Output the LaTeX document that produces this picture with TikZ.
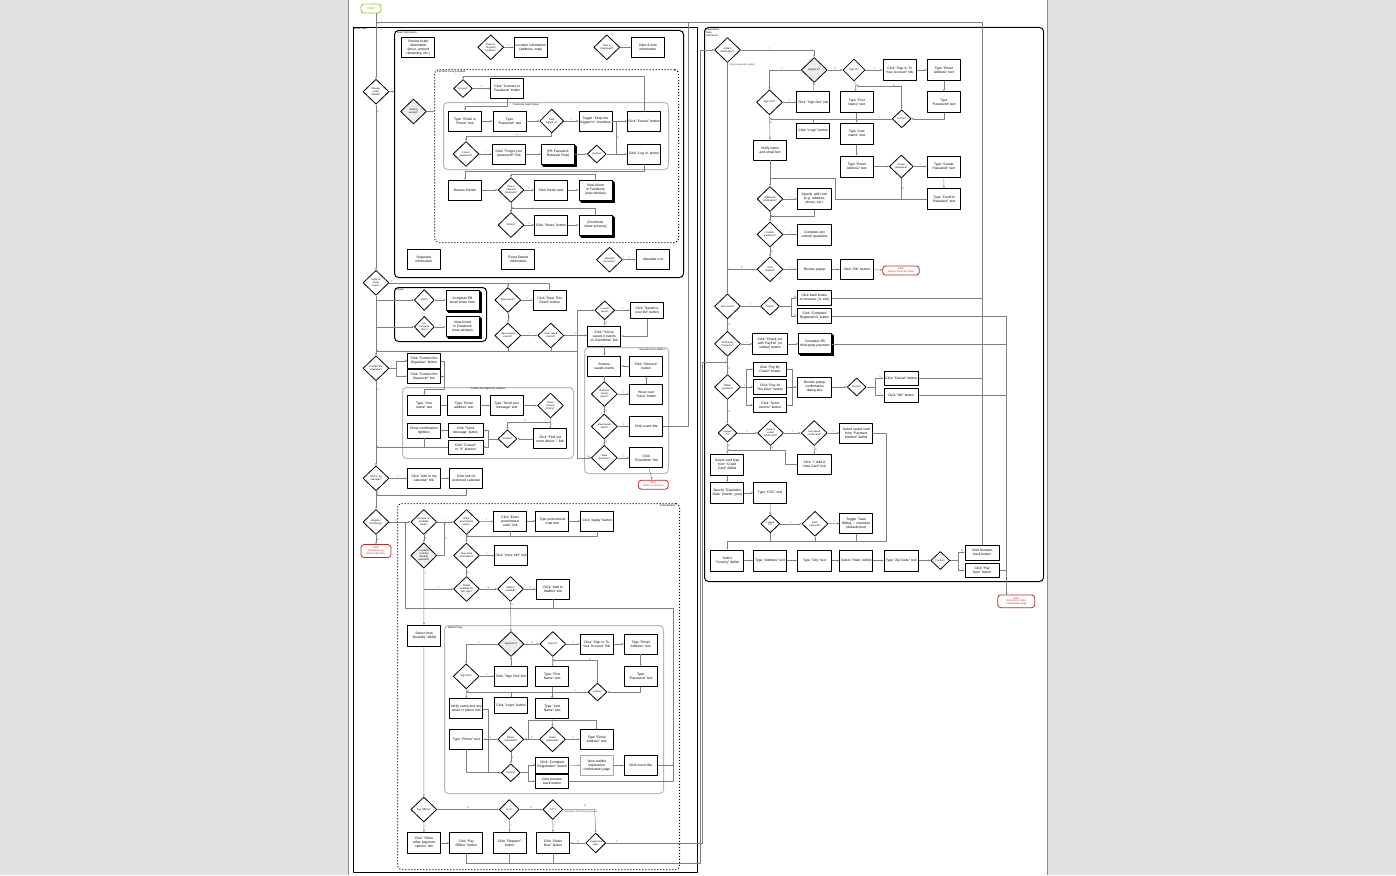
\documentclass[tikz,border=0pt]{standalone}
\usepackage{fontspec}
\setmainfont{Liberation Sans}
\usetikzlibrary{shapes.geometric,arrows.meta,shadows}
\definecolor{bggray}{RGB}{226,226,226}
\definecolor{endred}{RGB}{192,40,40}
\definecolor{startgr}{RGB}{154,205,50}
\definecolor{startxt}{RGB}{110,160,20}
\newcommand\nohy{\hyphenpenalty=10000 \exhyphenpenalty=10000 }
\newcommand\bxfont{\fontsize{3.35}{4.0}\selectfont\nohy}
\newcommand\dmfont{\fontsize{2.5}{3.0}\selectfont\nohy}
\newcommand\sdfont{\fontsize{2.3}{2.7}\selectfont\nohy}
\newcommand\hdfont{\fontsize{2.5}{2.9}\selectfont\nohy}
\newcommand\ynfont{\fontsize{2.3}{2.6}\selectfont\nohy}

\begin{document}
\begin{tikzpicture}[
  x=1pt,y=-1pt,
  line join=round,
  box/.style={draw,line width=0.9pt,fill=white,minimum width=33pt,minimum height=20pt,
    text width=31.6pt,align=center,inner sep=0.3pt,font=\bxfont},
  dec/.style={diamond,draw,line width=0.8pt,fill=white,minimum width=26pt,minimum height=25pt,
    inner sep=0pt,text width=14.5pt,align=center,font=\dmfont},
  sdec/.style={dec,minimum width=19pt,minimum height=18pt,text width=10.5pt,font=\sdfont},
  shade/.style={fill=gray!14},
  docs/.style={box,double copy shadow={shadow xshift=1pt,shadow yshift=-1pt}},
  endn/.style={draw=endred,line width=0.8pt,rounded corners=3pt,fill=white,text=endred,
    font=\hdfont,align=center,minimum width=30pt,minimum height=9pt,inner sep=0.5pt},
  startn/.style={draw=startgr,line width=0.9pt,rounded corners=3pt,fill=white,text=startxt,
    font=\hdfont,minimum width=20pt,minimum height=9pt,inner sep=0.5pt},
  cont/.style={draw,line width=1pt,rounded corners=4pt,inner sep=0pt},
  dotcont/.style={cont,dotted},
  lbox/.style={cont,draw=gray!55},
  hdr/.style={font=\hdfont,inner sep=0.8pt,align=left},
  conn/.style={draw=black!50,line width=0.5pt,-{Stealth[length=2.3pt,width=1.9pt]}},
  wire/.style={draw=black!50,line width=0.5pt},
  yn/.style={font=\ynfont,inner sep=0.5pt,text=black!75}
]
\useasboundingbox (0,0) rectangle (1396,875);
\fill[bggray] (0,0) rectangle (1396,875);
\fill[white] (348,0) rectangle (1048,875);
\draw[black!45,line width=0.6pt] (348.5,0) -- (348.5,875) (1047.5,0) -- (1047.5,875);

% ---------------- containers
\node[draw,line width=0.7pt,anchor=north west,minimum width=344pt,minimum height=845pt,inner sep=0pt] (evPage) at (353,27) {};
\node[hdr,anchor=north west] at (evPage.north west) {Event Page};
\node[cont,anchor=north west,minimum width=289pt,minimum height=247pt] (evInfo) at (394,30) {};
\node[hdr,anchor=north west] at ([shift={(2pt,-0.5pt)}]evInfo.north west) {Event Information};
\node[dotcont,anchor=north west,minimum width=244pt,minimum height=173pt] (whoGo) at (434,69) {};
\node[hdr,anchor=north west] at ([shift={(2pt,-0.5pt)}]whoGo.north west) {Use Who's Going module};
\node[lbox,anchor=north west,minimum width=225pt,minimum height=67pt] (fbPop) at (443,102) {};
\node[hdr,anchor=north] at (526,102.2) {Facebook Login Popup};
\node[cont,anchor=north west,minimum width=92pt,minimum height=54pt] (shBox) at (394,287) {};
\node[hdr,anchor=north west] at ([shift={(2pt,-0.5pt)}]shBox.north west) {Share};
\node[lbox,anchor=north west,minimum width=171pt,minimum height=71pt] (ctLb) at (402,387) {};
\node[hdr,anchor=north] at (ctLb.north) {Contact the Organizer Lightbox};
\node[lbox,anchor=north west,minimum width=84pt,minimum height=126pt] (svLb) at (584,347) {};
\node[hdr,anchor=north east] at ([shift={(-3pt,-0.5pt)}]svLb.north east) {Saved Events Lightbox};
\node[dotcont,anchor=north west,minimum width=282pt,minimum height=366pt] (tkMod) at (397,503) {};
\node[hdr,anchor=north east] at ([shift={(-4pt,-0.5pt)}]tkMod.north east) {Ticket Module};
\node[lbox,anchor=north west,minimum width=219pt,minimum height=168pt] (wlPg) at (444,625) {};
\node[hdr,anchor=north west] at ([shift={(3pt,-0.5pt)}]wlPg.north west) {Waitlist Page};
\node[cont,anchor=north west,minimum width=339pt,minimum height=554pt] (regPg) at (704,27) {};
\node[hdr,anchor=north west] at ([shift={(1pt,-0.5pt)}]regPg.north west) {Registration\\Page\\(checkout)};

% ---------------- event page main column
\node[startn] (start) at (371,8.5) {START};
\node[dec] (evRev) at (376,91.7) {Review event details?};
\node[dec] (evInv) at (376,282.8) {Invite or share event?};
\node[dec] (evContact) at (376,368.3) {Contact the organizer?};
\node[dec] (evCal) at (376,478.3) {Add to my calendar?};
\node[dec] (evReg) at (376,522) {Register (Continue)?};
\node[endn,minimum height=13pt] (evEnd) at (376,551) {END\\Don't/Error go\\back to directory};

% event information
\node[box] (evTicket) at (418.3,47.3) {Review ticket information (price, amount remaining, etc.)};
\node[dec] (evPhys) at (490.7,47.3) {Event is Physical location?};
\node[box] (evLoc) at (530.8,47.3) {Location information (address, map)};
\node[dec] (evDate) at (606.8,47.3) {Date is Displayed?};
\node[box] (evDT) at (648,47.3) {Date \& time information};
\node[box] (evOrg) at (424,259.7) {Organizer information};
\node[box] (evDet) at (518.3,259.7) {Event Details information};
\node[dec] (evAtt) at (609.5,259.7) {Attendee list active?};
\node[box] (evAttL) at (653,259.7) {Attendee List};

% who's going
\node[dec,shade] (wgAccess) at (413.5,111.5) {Setting access?};
\node[sdec] (wgConn) at (463,88.5) {Connect?};
\node[box] (wgFB) at (507.3,88.5) {Click "Connect to Facebook" button};
\node[box] (fbEmail) at (465,121) {Type "Email or Phone" text};
\node[box] (fbPass) at (509.5,121) {Type "Password" text};
\node[dec,minimum width=24pt,minimum height=24pt] (fbStay) at (551.7,121) {Stay logged in?};
\node[box] (fbToggle) at (595.5,121) {Toggle "Keep me logged in" checkbox};
\node[box] (fbCancel) at (644,121) {Click "Cancel" button};
\node[dec] (fbForgot) at (466,154) {Forgot password?};
\node[box] (fbForgotL) at (509,154) {Click "Forgot your password?" link};
\node[docs] (fbRetr) at (558,154) {[FB Password Retrieval Flow]};
\node[sdec] (fbConf) at (596.7,154) {Confirm?};
\node[box] (fbLogin) at (644,154) {Click "Log in" button};
\node[box] (wgBrowse) at (465,190) {Browse friends};
\node[dec] (wgView) at (511,190) {View a friend in Facebook?};
\node[box] (wgCard) at (551,190) {Click friend card};
\node[docs] (wgFriend) at (595.5,190) {View friend in Facebook (new window)};
\node[dec] (wgShare) at (511,225) {Share?};
\node[box] (wgShareB) at (551,225) {Click "Share" button};
\node[docs] (wgFBShare) at (595.5,225) {[Facebook share process]};

% share
\node[sdec,minimum width=20pt,minimum height=21pt] (shEmail) at (424.3,300) {Email?};
\node[docs] (shEB) at (462.5,300) {Complete EB email share form};
\node[sdec,minimum width=20pt,minimum height=21pt] (shFB) at (424.3,326.8) {Via Facebook share?};
\node[docs] (shView) at (462.5,326.8) {View friend in Facebook (new window)};

% save
\node[dec] (svSave) at (507.8,300) {Save event?};
\node[box] (svSaveB) at (549.7,300) {Click "Save This Event" button};
\node[dec] (svHave) at (507.8,335.5) {Have saved events?};
\node[dec] (svView) at (550.8,335.5) {View saved events?};
\node[sdec,minimum width=20pt,minimum height=19pt] (svIs) at (604.7,310.3) {Is event saved?};
\node[box,minimum height=16.6pt] (svList) at (647,310.3) {Click "Saved to your list" button};
\node[box] (svLink) at (604.3,336) {Click "You've saved \# events on Eventbrite" link};

% saved events lightbox
\node[box] (slBrowse) at (604.3,366) {Browse saved events};
\node[box] (slRemove) at (646.3,366) {Click "Remove" button};
\node[dec] (slRem) at (604.3,394) {Remove saved event?};
\node[box] (slHover) at (646.3,394) {Hover over "Save" button};
\node[dec] (slVw) at (604.3,426.5) {View saved event?};
\node[box] (slTitle) at (646.3,426.5) {Click event title};
\node[dec] (slDir) at (604.3,457.8) {View directory?};
\node[box] (slEB) at (646.3,457.8) {Click "Eventbrite" link};
\node[endn] (slEnd) at (653.3,484.7) {END\\Return to directory};

% contact
\node[box,minimum height=15pt] (coBtn) at (424,360.8) {Click "Contact the Organizer" button};
\node[box,minimum height=14pt] (coLink) at (424,376.3) {Click "Contact the Organizer" link};
\node[box] (coName) at (424.3,405.5) {Type "Your name" text};
\node[box] (coEmail) at (463.8,405.5) {Type "Email address" text};
\node[box] (coMsg) at (506.8,405.5) {Type "Send your message" text};
\node[dec] (coPriv) at (550.5,405.5) {Read Privacy Policy?};
\node[box,minimum height=15pt] (coClose) at (424,430.5) {Close confirmation lightbox};
\node[box,minimum height=14pt,minimum width=35pt,text width=33.6pt] (coSend) at (465.5,430.5) {Click "Send message" button};
\node[box,minimum height=14pt,minimum width=35pt,text width=33.6pt] (coCancel) at (465.5,447) {Click "Cancel" or "X" buttons};
\node[sdec] (coConf) at (507.5,438.8) {Confirm?};
\node[box] (coMore) at (550.2,438.8) {Click "Find out more about..." link};

% calendar
\node[box] (caLink) at (424,478.3) {Click "Add to my calendar" link};
\node[box] (caPref) at (466.3,478.3) {Click link for preferred calendar};

% ticket module
\node[dec] (tkAvail) at (423.8,522) {Is there an available ticket?};
\node[dec] (tkPromo) at (466.5,522) {Enter promotional code?};
\node[box] (tkPromoL) at (510.2,521) {Click "Enter promotional code" link};
\node[box] (tkPromoT) at (552.2,521) {Type promotional code text};
\node[box] (tkApply) at (597.2,521) {Click "Apply" button};
\node[dec,shade] (tkWlSel) at (423.8,555.5) {Is waitlist or ticket already selected?};
\node[dec] (tkMore) at (466.5,555.5) {View more information?};
\node[box] (tkMoreL) at (511,555.5) {Click "more info" link};
\node[dec] (tkAvType) at (466.5,589) {Tickets available for this type?};
\node[dec] (tkWlEn) at (510.5,589) {Waitlist enabled?};
\node[box] (tkAddWl) at (553,589) {Click "Add to Waitlist" link};
\node[box,minimum height=21pt] (tkQty) at (424,635.8) {Select from "Quantity" dd/list};

% waitlist page
\node[dec,shade] (wlSignedIn) at (511,644) {Signed In?};
\node[dec] (wlSignIn) at (552.8,644) {Sign In?};
\node[box] (wlSignInL) at (596.7,644) {Click "Sign In To Your Account" link};
\node[box] (wlEmail) at (640.7,644) {Type "Email Address" text};
\node[dec] (wlSignOut) at (466.2,676.3) {Sign Out?};
\node[box] (wlSignOutL) at (511,676.3) {Click "Sign Out" link};
\node[box] (wlFirst) at (552.2,676.3) {Type "First Name" text};
\node[box] (wlPass) at (640.7,676.3) {Type "Password" text};
\node[sdec] (wlConf) at (597.5,692) {Confirm?};
\node[box,minimum height=16pt] (wlLogin) at (511,705.3) {Click "Login" button};
\node[box] (wlVerify) at (466.3,708.8) {Verify name and any email or phone info};
\node[box] (wlLast) at (552.2,708.8) {Type "Last Name" text};
\node[box] (wlPhone) at (466.3,739.3) {Type "Phone" text};
\node[dec] (wlPhReq) at (510.8,739.3) {Phone requested?};
\node[dec] (wlEmReq) at (552.5,739.3) {Email requested?};
\node[box] (wlEmailT) at (596.7,739.3) {Type "Email Address" text};
\node[sdec] (wlConf2) at (510.8,772.7) {Confirm?};
\node[box,minimum height=16pt] (wlComplete) at (552.2,765) {Click "Complete Registration" button};
\node[box,line width=0.5pt,draw=gray!70] (wlConfPg) at (596.7,765.5) {View waitlist registration confirmation page};
\node[box] (wlTitle) at (640.7,765.5) {Click event title};
\node[box,minimum height=14.3pt] (wlBack) at (552.2,781.2) {Click browser back button};

% payment choice
\node[dec] (pyOff) at (423.8,809.5) {Pay Offline?};
\node[sdec,minimum width=20pt,minimum height=20pt] (pyFree) at (509.3,809.5) {Free?};
\node[sdec,minimum width=20pt,minimum height=20pt] (pyCOT) at (552.8,809.5) {COT?};
\node[sdec,minimum width=20pt,minimum height=20pt] (pyValid) at (595.7,843) {Registration valid?};
\node[box,minimum height=21pt] (pyShow) at (424,843) {Click "Show other payment options" link};
\node[box,minimum height=21pt] (pyOffB) at (466.3,843) {Click "Pay Offline" button};
\node[box,minimum height=21pt] (pyReg) at (509.7,843) {Click "Register" button};
\node[box,minimum height=21pt] (pyOrder) at (553,843) {Click "Order Now" button};

% ---------------- registration page
\node[dec] (rgCollect) at (727.5,50) {Collect information?};
\node[dec,shade] (rgSignedIn) at (814.2,70) {Signed In?};
\node[dec,minimum width=22pt,minimum height=22pt] (rgSignIn) at (854,70) {Sign In?};
\node[box,minimum height=21pt] (rgSignInL) at (899.7,70) {Click "Sign In To Your Account" link};
\node[box,minimum height=21pt] (rgEmail) at (943.8,70) {Type "Email Address" text};
\node[dec] (rgSignOut) at (769.5,102.3) {Sign Out?};
\node[box,minimum height=21pt] (rgSignOutL) at (813.3,102.3) {Click "Sign Out" link};
\node[box,minimum height=21pt] (rgFirst) at (856.7,102.3) {Type "First Name" text};
\node[box,minimum height=21pt] (rgPass) at (943.8,102.3) {Type "Password" text};
\node[sdec] (rgConf) at (901.7,118.8) {Confirm?};
\node[box,minimum height=15pt] (rgLogin) at (813.3,130.8) {Click "Login" button};
\node[box,minimum height=21pt] (rgLast) at (856.7,133.7) {Type "Last Name" text};
\node[box] (rgVerify) at (770,150) {Verify name and email text};
\node[box,minimum height=21pt] (rgEmailT) at (856.7,166.5) {Type "Email Address" text};
\node[dec,minimum width=24pt,minimum height=23pt] (rgCreate) at (901.3,166.5) {Create password?};
\node[box,minimum height=21pt] (rgCreatePw) at (943.8,166.5) {Type "Create Password" text};
\node[box,minimum height=21pt] (rgConfPw) at (944,199) {Type "Confirm Password" text};
\node[dec] (rgAddl) at (770,199) {Additional information?};
\node[box,minimum height=21pt,minimum width=34.4pt,text width=33.4pt] (rgSpecify) at (814.5,199) {Specify add'l info (e.g. address, phone, etc.)};
\node[dec] (rgCustom) at (770,234.5) {Custom questions?};
\node[box,minimum height=21pt,minimum width=34.4pt,text width=33.4pt] (rgCustomB) at (814.5,234.5) {Complete any custom questions};
\node[dec] (rgTime) at (770,269.3) {Time expired?};
\node[box,minimum width=34.4pt] (rgReview) at (814.5,269.3) {Review popup};
\node[box] (rgOK) at (856.7,269.3) {Click "OK" button};
\node[endn,minimum width=36.6pt] (rgEnd1) at (901,270.5) {END\\Redirect to Event Page};
\node[dec] (rgFree) at (727.5,306.3) {Free event?};
\node[sdec] (rgConf1) at (770,306.3) {Confirm?};
\node[box,minimum height=14.3pt,minimum width=34.4pt,text width=33.4pt] (rgBackB) at (814.5,297.8) {Click back button on browser (or exit)};
\node[box,minimum height=15pt,minimum width=34.4pt,text width=33.4pt] (rgComplete) at (814.5,315.8) {Click "Complete Registration" button};
\node[dec] (rgThird) at (727.5,343.8) {Third-party Processor?};
\node[box,minimum height=21pt,minimum width=34.6pt,text width=33.6pt] (rgPayPal) at (770,343.8) {Click "Check out with PayPal" (or similar) button};
\node[docs] (rgEB3) at (815,343.8) {Complete EB third-party payment};
\node[dec] (rgOffline) at (727.5,387) {Offline payment?};
\node[box,minimum height=14.4pt] (rgCheck) at (770,369.5) {Click "Pay By Check" button};
\node[box,minimum height=14.3pt] (rgDoor) at (770,387) {Click "Pay At The Door" button};
\node[box,minimum height=14.6pt] (rgInvoice) at (770,405) {Click "Send Invoice" button};
\node[box,minimum width=34.4pt,text width=33.4pt] (rgPopup) at (814.5,387) {Review popup confirmation dialog box};
\node[sdec] (rgConf2) at (856.7,387) {Confirm?};
\node[box,minimum height=14pt,minimum width=34.3pt] (rgCancel) at (901.2,378) {Click "Cancel" button};
\node[box,minimum height=14pt,minimum width=34.3pt] (rgOKb) at (901.2,395.3) {Click "OK" button};
\node[sdec] (rgLogged) at (727.5,433) {Logged In?};
\node[dec] (rgHaveCC) at (770.5,433) {Have a saved credit card?};
\node[dec] (rgUseCC) at (814.2,433) {Use saved credit card?};
\node[box] (rgSelCC) at (856.3,433) {Select saved card from "Payment Method" dd/list};
\node[box,minimum height=21pt] (rgCardType) at (727.3,464.7) {Select card type from "Credit Card" dd/list};
\node[box,minimum width=34.4pt] (rgNewCard) at (814.5,464.5) {Click "+ Add A New Card" link};
\node[box,minimum height=21pt] (rgExpiry) at (727.3,492.8) {Specify "Expiration Date" (month, year)};
\node[box,minimum height=21pt] (rgCVC) at (770,492.8) {Type "CVC" text};
\node[sdec] (rgLogged2) at (770.3,523.8) {Logged In?};
\node[dec] (rgSaveCC) at (815,523.8) {Save card info?};
\node[box] (rgToggle) at (856.3,523.5) {Toggle "Save Billing..." checkbox (default=true)};
\node[box,minimum height=21pt] (rgCountry) at (727.3,560.5) {Select "Country" dd/list};
\node[box,minimum height=21pt] (rgAddress) at (770,560.5) {Type "Address" text};
\node[box,minimum height=21pt,minimum width=34.4pt] (rgCity) at (814.5,560.5) {Type "City" text};
\node[box,minimum height=21pt] (rgState) at (856.3,560.5) {Select "State" dd/list};
\node[box,minimum height=21pt,minimum width=34.3pt] (rgZip) at (901.2,560.5) {Type "Zip Code" text};
\node[sdec] (rgConf3) at (940.3,560.5) {Confirm?};
\node[box,minimum height=15pt,minimum width=34.3pt] (rgBack) at (982.2,552.5) {Click browser back button};
\node[box,minimum height=14.4pt,minimum width=34.3pt] (rgPayNow) at (982.2,570.5) {Click "Pay Now" button};
\node[endn,minimum width=37pt,minimum height=12.7pt] (rgEnd2) at (1016.3,601.3) {END\\Redirect to Order\\Confirmation Page};

% ---------------- connectors: event page spine
\draw[conn] (start.south -| evRev.north) -- (evRev.north);
\draw[conn] (rgBack.north) -- (982.2,22.7) -- (376,22.7);
\draw[conn] (evRev.east) -- (evInfo.west |- evRev) node[yn,above,midway]{Y};
\draw[conn] (evRev.south) -- (evInv.north) node[yn,right,pos=0.04]{N};
\draw[conn] (evInv.south) -- (evContact.north);
\draw[conn] (376,300) -- (shEmail.west);
\draw[conn] (376,326.8) -- (shFB.west);
\draw[conn] (shEmail) -- (shEB) node[yn,above,midway]{Y};
\draw[conn] (shFB) -- (shView) node[yn,above,midway]{Y};

% event information
\draw[conn] (evPhys) -- (evLoc) node[yn,above,midway]{Y};
\draw[conn] (evDate) -- (evDT) node[yn,above,midway]{Y};
\draw[conn] (evAtt) -- (evAttL) node[yn,above,midway]{Y};
\draw[conn] (wgAccess.east) -- (whoGo.west |- wgAccess) node[yn,above,midway]{Y};

% who's going
\draw[conn] (wgConn) -- (wgFB) node[yn,above,midway]{Y};
\draw[conn] (wgFB.south) -- (507.3,106) -| (fbEmail.north);
\draw[conn] (fbEmail) -- (fbPass);
\draw[conn] (fbPass) -- (fbStay);
\draw[conn] (fbStay) -- (fbToggle) node[yn,above,midway]{Y};
\draw[conn] (fbToggle) -- (fbCancel);
\draw[conn] (fbStay.south) -- (551.7,136.7) -| (fbForgot.north) node[yn,above,pos=0.2]{N};
\draw[conn] (fbForgot) -- (fbForgotL) node[yn,above,midway]{Y};
\draw[conn] (fbForgotL) -- (fbRetr);
\draw[conn] (fbRetr) -- (fbConf);
\draw[conn] (fbConf) -- (fbLogin) node[yn,above,midway]{Y};
\draw[wire] (616.7,154) -- (616.7,121) node[yn,right,midway]{N};
\draw[conn] (fbCancel.north) -- (644,76) -| (wgConn.north);
\draw[conn] (fbLogin.south) -- (644,171.5) -| (wgBrowse.north);
\draw[conn] (wgBrowse) -- (wgView);
\draw[conn] (wgView) -- (wgCard) node[yn,above,midway]{Y};
\draw[conn] (wgCard) -- (wgFriend);
\draw[conn] (wgFriend.north) -- (595.5,174.5) -| (wgView.north);
\draw[conn] (wgView) -- (wgShare) node[yn,right,midway]{N};
\draw[conn] (wgShare) -- (wgShareB) node[yn,above,midway]{Y};
\draw[conn] (wgShareB) -- (wgFBShare);
\draw[conn] (wgFBShare.north) -- (595.5,208.5) -| (wgShare.north);

% save / saved events
\draw[wire] (evInv.east) -- (549.7,282.8) -- (svSaveB.north);
\node[yn,above] at (392,282.8) {Y};
\draw[conn] (507.8,282.8) -- (svSave.north);
\draw[conn] (svSave) -- (svSaveB) node[yn,above,midway]{Y};
\draw[conn] (svSave) -- (svHave) node[yn,right,midway]{N};
\draw[conn] (svHave) -- (svView) node[yn,above,midway]{Y};
\draw[wire] (svHave.south) -- (507.8,351);
\draw[conn] (577,351) -- (376,351);
\draw[wire] (svView.south) -- (550.8,351);
\draw[conn] (svView.east) -- (svLink.west |- svView) node[yn,above,midway]{Y};
\draw[conn] (577,351) -- (577,310.3) -- (svIs.west);
\draw[conn] (577,351) |- (slDir.west) node[yn,above,pos=0.9]{N};
\draw[conn] (svIs) -- (svList) node[yn,above,midway]{Y};
\draw[conn] (svIs) -- (svLink) node[yn,right,midway]{N};
\draw[conn] (svList.south) |- (svLink.east);
\draw[conn] (svLink) -- (slBrowse);
\draw[conn] (slBrowse) -- (slRem);
\draw[conn] (slRem) -- (slHover) node[yn,above,midway]{Y};
\draw[conn] (slHover) -- (slRemove);
\draw[conn] (slRemove) -- (slBrowse);
\draw[conn] (slRem) -- (slVw) node[yn,right,midway]{N};
\draw[conn] (slVw) -- (slTitle) node[yn,above,midway]{Y};
\draw[conn] (slVw) -- (slDir) node[yn,right,midway]{N};
\draw[conn] (slDir) -- (slEB) node[yn,above,midway]{Y};
\draw[conn] (slEB) -- (slEnd);
\draw[wire] (slTitle.east) -- (688,426.5) -- (688,22.7);

% contact the organizer
\draw[conn] (evContact.east) -- (396,368.3) |- (coBtn.west);
\draw[conn] (396,368.3) |- (coLink.west);
\node[yn,above] at (392,368.3) {Y};
\draw[conn] (coBtn.east) -- (444.2,360.8) -- (444.2,389.5) -| (coName.north);
\draw[wire] (coLink.east) -- (444.2,376.3);
\draw[conn] (coName) -- (coEmail);
\draw[conn] (coEmail) -- (coMsg);
\draw[conn] (coMsg) -- (coPriv);
\draw[conn] (coPriv) -- (coMore) node[yn,right,pos=0.6]{Y};
\draw[conn] (550.5,422) -| (coConf.north) node[yn,above,pos=0.3]{N};
\draw[conn] (coMore) -- (coConf);
\draw[conn] (coConf.west) -- (488.5,438.8) |- (coSend.east);
\draw[conn] (488.5,438.8) |- (coCancel.east);
\draw[conn] (coSend) -- (coClose);
\draw[wire] (coClose.south) -- (424,447);
\draw[conn] (coCancel.west) -- (evContact |- coCancel);
\draw[conn] (evContact) -- (evCal) node[yn,right,pos=0.1]{N};

% calendar and register
\draw[conn] (evCal) -- (caLink) node[yn,above,midway]{Y};
\draw[conn] (caLink) -- (caPref);
\draw[conn] (caPref.south) -- (466.3,495) -- (376,495);
\draw[conn] (evCal) -- (evReg) node[yn,right,pos=0.1]{N};
\draw[conn] (evReg) -- (evEnd) node[yn,right,midway]{N};
\draw[conn] (evReg) -- (tkAvail) node[yn,above,pos=0.3]{Y};

% ticket module
\draw[conn] (tkAvail) -- (tkPromo) node[yn,above,midway]{Y};
\draw[conn] (tkPromo) -- (tkPromoL) node[yn,above,midway]{Y};
\draw[conn] (tkPromoL) -- (tkPromoT);
\draw[conn] (tkPromoT) -- (tkApply);
\draw[conn] (tkApply.south) -- (597.2,536.7) -| (tkMore.north);
\draw[wire] (tkPromoL.south) -- (510.2,536.7);
\draw[wire] (tkPromo.south) -- (466.5,536.7) node[yn,right,midway]{N};
\draw[conn] (tkAvail) -- (tkWlSel) node[yn,right,midway]{N};
\draw[conn] (tkWlSel.east) -- (444.7,555.5) -- (444.7,522) node[yn,right,midway]{N};
\draw[conn] (tkMore) -- (tkMoreL) node[yn,above,midway]{Y};
\draw[conn] (tkMore) -- (tkAvType) node[yn,right,midway]{N};
\draw[conn] (tkAvType) -- (tkWlEn) node[yn,above,midway]{N};
\draw[conn] (tkWlEn) -- (tkAddWl) node[yn,above,midway]{Y};
\draw[conn] (tkWlSel) -- (tkQty) node[yn,right,pos=0.1]{Y};
\draw[conn] (423.8,589) -- (tkAvType.west) node[yn,above,midway]{Y};
\draw[conn] (tkWlEn) -- (wlSignedIn) node[yn,right,pos=0.1]{N};
\draw[wire] (tkAddWl.south) -- (553,608.3);
\draw[conn] (wlBack.east) -- (673,781.2) -- (673,608.3) -- (405.3,608.3) -- (405.3,522);
\draw[wire] (wlTitle.east) -- (673,765.5);
\draw[conn] (tkQty) -- (pyOff);

% waitlist page
\draw[conn] (wlSignedIn) -- (wlSignIn) node[yn,above,midway]{N};
\draw[conn] (wlSignedIn.west) -| (wlSignOut.north) node[yn,above,pos=0.3]{Y};
\draw[conn] (wlSignIn) -- (wlSignInL) node[yn,above,midway]{Y};
\draw[conn] (wlSignInL) -- (wlEmail);
\draw[conn] (wlEmail) -- (wlPass);
\draw[conn] (wlPass.south) |- (wlConf.east);
\draw[conn] (wlConf.north) -- (597.5,660) -- (552.2,660) node[yn,right,pos=0.2]{N};
\draw[conn] (wlConf.west) -- (wlSignOut |- wlConf) node[yn,above,pos=0.1]{Y};
\draw[wire] (wlLogin.north) -- (wlLogin |- wlConf);
\draw[conn] (wlSignIn) -- (wlFirst) node[yn,right,midway]{N};
\draw[conn] (wlFirst) -- (wlLast);
\draw[conn] (wlLast) -- (wlEmReq);
\draw[conn] (wlSignOut) -- (wlSignOutL) node[yn,above,midway]{Y};
\draw[conn] (wlSignOutL) -- (wlSignedIn);
\draw[conn] (wlSignOut) -- (wlVerify) node[yn,right,pos=0.3]{N};
\draw[conn] (wlVerify.east) -- (488,708.8) |- (wlConf2.west);
\draw[conn] (wlEmReq) -- (wlEmailT) node[yn,above,midway]{Y};
\draw[conn] (wlEmReq) -- (wlPhReq) node[yn,above,midway]{N};
\draw[conn] (wlEmailT.north) -- (596.7,720) -- (528,720) |- (wlPhReq.east);
\draw[conn] (wlPhReq) -- (wlPhone) node[yn,above,midway]{Y};
\draw[conn] (wlPhReq) -- (wlConf2) node[yn,right,midway]{N};
\draw[conn] (wlPhone.south) |- (wlConf2.west);
\draw[conn] (wlConf2.east) -- (528.3,772.7) |- (wlComplete.west);
\draw[conn] (528.3,772.7) |- (wlBack.west);
\draw[conn] (wlComplete) -- (wlConfPg);
\draw[conn] (wlConfPg) -- (wlTitle);

% payment choice
\draw[conn] (pyOff) -- (pyShow) node[yn,right,midway]{Y};
\draw[conn] (pyOff) -- (pyFree) node[yn,above,midway]{N};
\draw[conn] (pyShow) -- (pyOffB);
\draw[conn] (pyFree) -- (pyReg) node[yn,right,midway]{Y};
\draw[conn] (pyFree) -- (pyCOT) node[yn,above,midway]{N};
\draw[conn] (pyCOT) -- (pyOrder) node[yn,right,midway]{Y};
\draw[conn] (pyCOT.east) -- (594.7,809.5) -- (pyValid.north);
\node[yn,above] at (585,807.5) {N};
\node[yn,anchor=west] at (565,811.5) {(includes Third-Party Payment)};
\draw[conn] (pyValid) -- (pyOrder) node[yn,above,midway]{N};
\draw[wire] (pyOffB.south) -- (466.3,863.3);
\draw[wire] (pyReg.south) -- (509.7,863.3);
\draw[wire] (pyOrder.south) -- (553,863.3);
\draw[conn] (466.3,863.3) -- (700.7,863.3) -- (700.7,50) -- (rgCollect.west);
\draw[conn] (pyValid.east) -- (702.7,843) -- (702.7,362.3) -- (727.5,362.3);
\node[yn,above] at (617,843) {Y};

% registration page
\draw[conn] (rgCollect.east) -| (rgSignedIn.north) node[yn,above,pos=0.2]{Y};
\draw[conn] (rgCollect) -- (rgFree);
\node[yn,anchor=north west] at (729,63) {N\\(Not relevant\\for option)};
\draw[conn] (rgSignedIn) -- (rgSignIn) node[yn,above,midway]{N};
\draw[conn] (rgSignedIn.west) -| (rgSignOut.north) node[yn,above,pos=0.3]{Y};
\draw[conn] (rgSignIn) -- (rgSignInL) node[yn,above,midway]{Y};
\draw[conn] (rgSignInL) -- (rgEmail);
\draw[conn] (rgEmail) -- (rgPass);
\draw[conn] (rgPass.south) |- (rgConf.east);
\draw[conn] (rgConf.north) -- (901.7,86) -- (856.7,86) node[yn,right,pos=0.2]{N};
\draw[conn] (rgConf.west) -- (rgSignOut |- rgConf) node[yn,above,pos=0.1]{Y};
\draw[wire] (rgLogin.north) -- (rgLogin |- rgConf);
\draw[conn] (rgSignIn) -- (rgFirst) node[yn,right,midway]{N};
\draw[conn] (rgFirst) -- (rgLast);
\draw[conn] (rgLast) -- (rgEmailT);
\draw[conn] (rgEmailT) -- (rgCreate);
\draw[conn] (rgCreate) -- (rgCreatePw) node[yn,above,midway]{Y};
\draw[conn] (rgCreatePw) -- (rgConfPw);
\draw[wire] (rgCreate.south) -- (901.3,199) node[yn,right,midway]{N};
\draw[wire] (rgConfPw.west) -- (835,199) -- (835,178.3) -- (770,178.3);
\draw[conn] (rgSignOut) -- (rgSignOutL) node[yn,above,midway]{Y};
\draw[conn] (rgSignOutL) -- (rgSignedIn);
\draw[conn] (rgSignOut) -- (rgVerify) node[yn,right,pos=0.3]{N};
\draw[conn] (rgVerify) -- (rgAddl);
\draw[conn] (rgAddl) -- (rgSpecify) node[yn,above,midway]{Y};
\draw[conn] (rgSpecify.south) -- (814.5,216) -- (770,216);
\draw[conn] (rgAddl) -- (rgCustom) node[yn,right,midway]{N};
\draw[conn] (rgCustom) -- (rgCustomB) node[yn,above,midway]{Y};
\draw[conn] (rgCustom) -- (rgTime) node[yn,right,midway]{N};
\draw[conn] (rgTime) -- (rgReview) node[yn,above,midway]{Y};
\draw[conn] (rgReview) -- (rgOK);
\draw[conn] (rgOK) -- (rgEnd1);
\draw[conn] (rgTime.west) -- (rgCollect |- rgTime) node[yn,above,midway]{N};
\draw[conn] (rgFree) -- (rgConf1) node[yn,above,midway]{Y};
\draw[conn] (rgConf1.east) -- (791.7,306.3) |- (rgBackB.west) node[yn,above,pos=0.8]{N};
\draw[conn] (791.7,306.3) |- (rgComplete.west) node[yn,above,pos=0.8]{Y};
\draw[wire] (rgBackB.east) -- (982.2,297.8);
\draw[conn] (rgComplete.east) -- (1006.7,315.8) -- (1006.7,595);
\draw[conn] (rgFree) -- (rgThird) node[yn,right,midway]{N};
\draw[conn] (rgThird) -- (rgPayPal) node[yn,above,midway]{Y};
\draw[conn] (rgPayPal) -- (rgEB3);
\draw[wire] (rgEB3.east) -- (1006.7,343.8);
\draw[conn] (rgThird) -- (rgOffline) node[yn,right,pos=0.7]{N};
\draw[conn] (rgOffline) -- (rgDoor) node[yn,above,pos=0.3]{Y};
\draw[conn] (746.7,387) |- (rgCheck.west);
\draw[conn] (746.7,387) |- (rgInvoice.west);
\draw[wire] (rgCheck.east) -- (792.7,369.5) -- (792.7,405) -- (rgInvoice.east);
\draw[conn] (rgDoor) -- (rgPopup);
\draw[conn] (rgPopup) -- (rgConf2);
\draw[conn] (rgConf2.east) -- (875,387) |- (rgCancel.west) node[yn,above,pos=0.8]{N};
\draw[conn] (875,387) |- (rgOKb.west) node[yn,above,pos=0.8]{Y};
\draw[wire] (rgCancel.east) -- (982.2,378);
\draw[wire] (rgOKb.east) -- (1006.7,395.3);
\draw[conn] (rgOffline) -- (rgLogged) node[yn,right,midway]{N};
\draw[conn] (rgLogged) -- (rgHaveCC) node[yn,above,midway]{Y};
\draw[conn] (rgHaveCC) -- (rgUseCC) node[yn,above,midway]{Y};
\draw[conn] (rgUseCC) -- (rgSelCC) node[yn,above,midway]{Y};
\draw[conn] (rgUseCC) -- (rgNewCard) node[yn,right,midway]{N};
\draw[conn] (rgNewCard.west) -- (785,464.5) -- (785,450) -- (727.5,450);
\draw[wire] (rgHaveCC.south) -- (770.5,450) node[yn,right,midway]{N};
\draw[conn] (rgLogged) -- (rgCardType) node[yn,right,pos=0.3]{N};
\draw[conn] (rgCardType) -- (rgExpiry);
\draw[conn] (rgExpiry) -- (rgCVC);
\draw[conn] (rgCVC) -- (rgLogged2);
\draw[conn] (rgLogged2) -- (rgSaveCC) node[yn,above,midway]{Y};
\draw[conn] (rgSaveCC) -- (rgToggle) node[yn,above,midway]{Y};
\draw[wire] (rgSelCC.east) -- (886,433) -- (886,541.7) -- (727.3,541.7);
\draw[wire] (rgToggle.south) -- (856.3,541.7);
\draw[wire] (rgSaveCC.south) -- (815,541.7);
\draw[wire] (rgLogged2.south) -- (770.3,541.7);
\draw[conn] (727.3,541.7) -- (rgCountry.north);
\draw[conn] (rgCountry) -- (rgAddress);
\draw[conn] (rgAddress) -- (rgCity);
\draw[conn] (rgCity) -- (rgState);
\draw[conn] (rgState) -- (rgZip);
\draw[conn] (rgZip) -- (rgConf3);
\draw[conn] (rgConf3.east) -- (958.3,560.5) |- (rgBack.west) node[yn,above,pos=0.8]{N};
\draw[conn] (958.3,560.5) |- (rgPayNow.west) node[yn,above,pos=0.8]{Y};
\draw[wire] (rgPayNow.east) -- (1006.7,570.5);
\end{tikzpicture}
\end{document}
